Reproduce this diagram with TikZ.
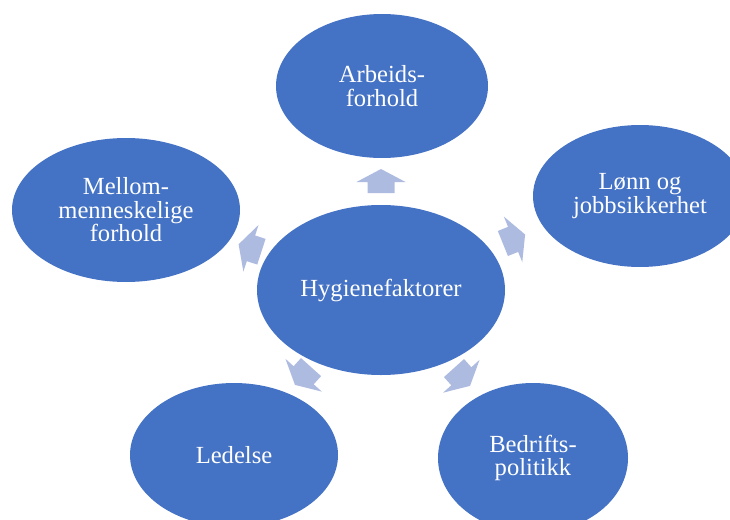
\documentclass[tikz,border=0pt]{standalone}
\usepackage{fontspec}
\setmainfont{Liberation Serif}
\usetikzlibrary{shapes.geometric}
\definecolor{bubblefill}{HTML}{4472C4}
\definecolor{spokefill}{HTML}{AEBBE0}
\tikzset{
  bubble/.style={ellipse, fill=bubblefill, text=white, inner sep=0pt,
    align=center, font=\fontsize{24.6}{23.5}\selectfont},
  pics/spoke/.style={code={
    \fill[spokefill] (-12,-13.5) -- (-1,-13.5) -- (-1,-24.5) -- (12,0)
      -- (-1,24.5) -- (-1,13.5) -- (-12,13.5) -- cycle;}}
}
\begin{document}
\begin{tikzpicture}[x=1pt,y=-1pt]
\useasboundingbox (0,0) rectangle (730,519);

% hub and the five factors around it
\node[bubble, minimum width=248pt, minimum height=170pt] (hub) at (381,290) {Hygienefaktorer};
\node[bubble, minimum width=212pt, minimum height=144pt] (work) at (382,86) {Arbeids-\\forhold};
\node[bubble, minimum width=214pt, minimum height=142pt] (pay) at (640,196) {Lønn og\\jobbsikkerhet};
\node[bubble, minimum width=228pt, minimum height=144pt] (social) at (126,210) {Mellom-\\menneskelige\\forhold};
\node[bubble, minimum width=208pt, minimum height=144pt] (lead) at (234,455) {Ledelse};
\node[bubble, minimum width=190pt, minimum height=150pt] (policy) at (533,458) {Bedrifts-\\politikk};

% outward block arrows between the hub and each factor
\coordinate (a1) at (381,181);
\coordinate (a2) at (514,239);
\coordinate (a3) at (250,248);
\coordinate (a4) at (303,376);
\coordinate (a5) at (462,377);
\path (a1) pic[rotate=90] {spoke};
\path (a2) pic[rotate=22] {spoke};
\path (a3) pic[rotate=162] {spoke};
\path (a4) pic[rotate=-132] {spoke};
\path (a5) pic[rotate=-48] {spoke};
\end{tikzpicture}
\end{document}
